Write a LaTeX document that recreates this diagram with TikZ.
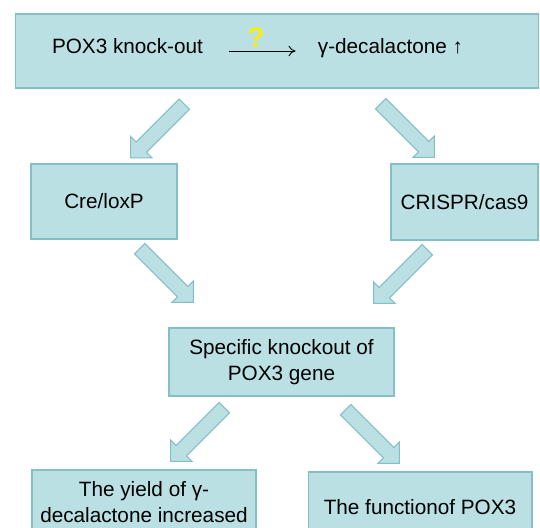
\documentclass[tikz,border=0pt]{standalone}
\usepackage{fontspec}
\setmainfont{Liberation Sans}
\usetikzlibrary{shapes.arrows,arrows.meta}
\definecolor{boxFill}{RGB}{186,224,228}
\definecolor{boxLine}{RGB}{132,190,198}
\definecolor{qYellow}{RGB}{246,236,24}

\begin{document}
\begin{tikzpicture}[x=0.02cm, y=-0.02cm,
    every node/.style={font=\fontsize{11.8}{14.7}\selectfont, align=center},
    stepbox/.style={draw=boxLine, fill=boxFill, line width=0.6pt},
    plaintext/.style={inner sep=0pt},
    blockarrow/.style={single arrow, draw=boxLine, fill=boxFill, line width=0.6pt,
        minimum height=1.52cm, inner xsep=0pt, inner ysep=0.135cm,
        single arrow head extend=0.16cm}]
    \clip (0,0) rectangle (540,527);
    \fill[white] (0,0) rectangle (540,527);
    \node[stepbox, minimum width=10.46cm, minimum height=1.48cm] (top) at (277,51) {};
    \node[plaintext, anchor=base] (knock) at (127.5,53) {POX3 knock-out};
    \node[plaintext, anchor=base] (gamma) at (390.5,53) {γ-decalactone ↑};
    \draw[-{To[length=4pt,width=6pt]}, line width=0.5pt]
        ([xshift=0.52cm,yshift=0.04cm]knock.base east) -- ([xshift=-0.44cm,yshift=0.04cm]gamma.base west);
    \node[font=\fontsize{16}{16}\bfseries\selectfont, text=qYellow] (qmark) at (256,38) {?};
    \node[stepbox, minimum width=2.92cm, minimum height=1.5cm] (cre) at (104,201.5) {Cre/loxP};
    \node[stepbox, minimum width=2.94cm, minimum height=1.52cm] (crispr) at (464.5,202) {CRISPR/cas9};
    \node[stepbox, minimum width=4.5cm, minimum height=1.36cm] (spec) at (281.5,362) {Specific knockout of\\POX3 gene};
    \node[stepbox, minimum width=4.48cm, minimum height=1.28cm] (yield) at (144,502) {The yield of γ-\\decalactone increased};
    \node[stepbox, minimum width=4.48cm, minimum height=1.4cm] (func) at (420,507) {The functionof POX3};
    \node[blockarrow, rotate=225] (a1) at (160,128.5) {};
    \node[blockarrow, rotate=-45] (a2) at (405,128) {};
    \node[blockarrow, rotate=-45] (a3) at (164,273) {};
    \node[blockarrow, rotate=225] (a4) at (403,274) {};
    \node[blockarrow, rotate=225] (a5) at (200,432) {};
    \node[blockarrow, rotate=-45] (a6) at (370,434) {};
\end{tikzpicture}
\end{document}
